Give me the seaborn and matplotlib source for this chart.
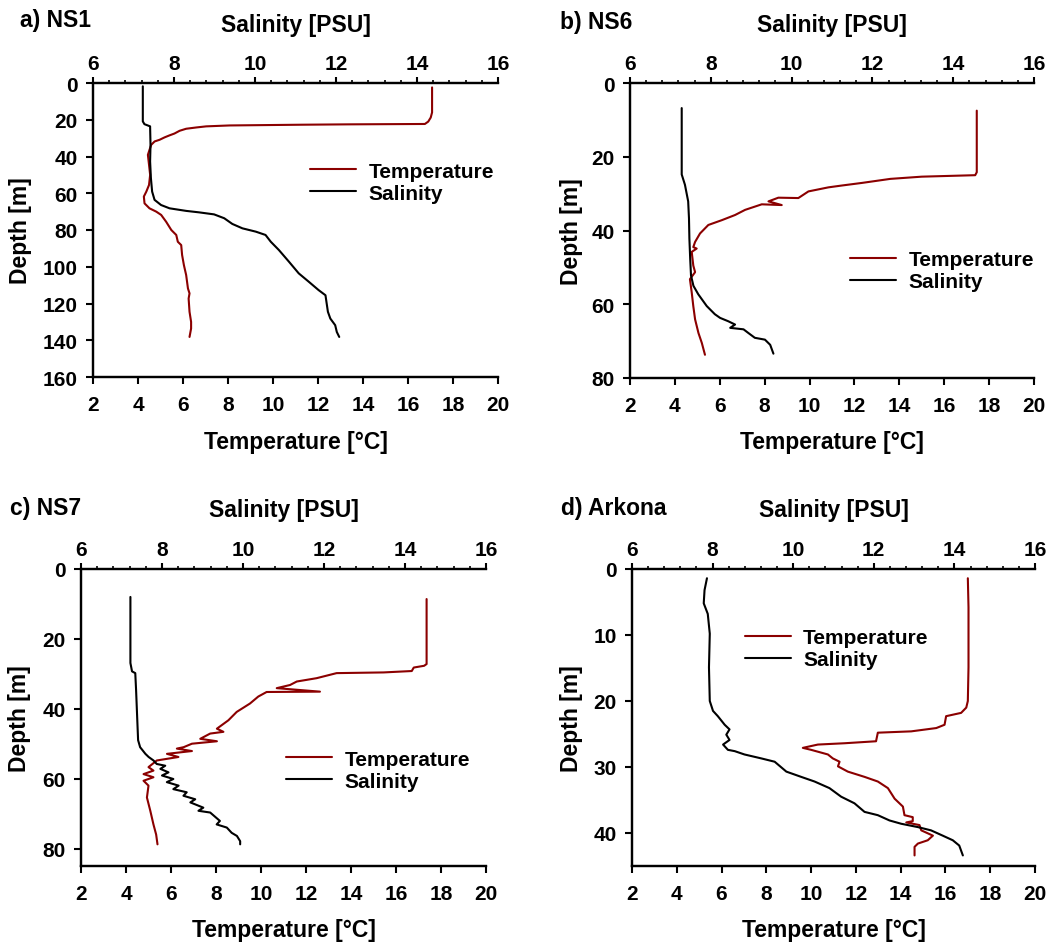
import matplotlib
matplotlib.use("Agg")
import matplotlib.pyplot as plt
from matplotlib.ticker import MultipleLocator
import seaborn as sns

# ---- CTD profiles -------------------------------------------------------
# NS1
ns1_temp_depth = [2.4, 16, 18.8, 21, 22.3, 22.5, 22.7, 23.1, 23.6, 24.2, 24.9, 26.0, 27.5, 28.5, 29.6,
                  30.9, 31.8, 33.6, 36.4, 39.1, 44.5, 50, 55.5, 59.1, 61.8, 65.5, 68.2, 70, 71.8, 75.5,
                  80, 82.7, 86.4, 88.2, 93.6, 99.1, 104.5, 111.8, 114.5, 117.3, 124.5, 130, 133.6, 138.2]
ns1_temp = [17.07, 17.07, 17.01, 16.9, 16.75, 13.4, 11.3, 8.07, 7.03, 6.59, 6.14, 5.85, 5.62, 5.40, 5.18,
            4.96, 4.74, 4.59, 4.51, 4.44, 4.49, 4.54, 4.49, 4.37, 4.26, 4.29, 4.51, 4.81, 5.03, 5.25,
            5.48, 5.70, 5.77, 5.92, 5.96, 6.04, 6.14, 6.22, 6.29, 6.25, 6.29, 6.36, 6.36, 6.29]
ns1_sal_depth = [1.8, 20.9, 22.4, 23.6, 33.6, 42.7, 51.8, 59.1, 63.6, 66.4, 68.2, 69.6, 70.4, 71.5, 73.6,
                 76.7, 79.1, 80.9, 82.7, 86.4, 90.9, 97.3, 103.6, 108.2, 112.7, 115.5, 124.5, 128.2,
                 131.8, 135.5, 138.2]
ns1_sal = [7.23, 7.23, 7.27, 7.41, 7.42, 7.41, 7.43, 7.46, 7.52, 7.68, 7.89, 8.30, 8.62, 8.99, 9.24,
           9.44, 9.69, 10.02, 10.26, 10.39, 10.59, 10.84, 11.08, 11.33, 11.57, 11.74, 11.80, 11.86,
           11.98, 12.02, 12.08]

# NS6
ns6_temp_depth = [7.5, 24.2, 25.0, 25.4, 26.0, 27.1, 27.8, 28.3, 29.4, 31.2, 31.1, 32.1, 33.1, 32.9, 34.4,
                  35.8, 37.2, 38.5, 40.8, 43.1, 44.5, 44.9, 45.8, 49.5, 51.3, 53.2, 56.8, 60.5, 64.1,
                  67.8, 70.5, 73.7]
ns6_temp = [17.45, 17.45, 17.38, 15.0, 13.6, 12.33, 11.44, 10.84, 9.95, 9.50, 8.61, 8.17, 8.76, 7.87, 7.13,
            6.68, 6.09, 5.49, 5.12, 4.90, 4.82, 4.97, 4.75, 4.82, 4.90, 4.67, 4.75, 4.82, 4.90,
            5.05, 5.20, 5.34]
ns6_sal_depth = [6.8, 24.8, 27.6, 32.1, 36.7, 42.2, 47.7, 52.2, 55.0, 57.3, 60.5, 62.7, 63.7, 64.6, 65.5,
                 66.4, 66.8, 67.8, 69.1, 69.6, 71.0, 73.4]
ns6_sal = [7.28, 7.28, 7.36, 7.44, 7.46, 7.47, 7.49, 7.51, 7.57, 7.69, 7.90, 8.10, 8.23, 8.43, 8.60,
           8.48, 8.81, 8.93, 9.09, 9.34, 9.47, 9.55]

# NS7
ns7_temp_depth = [8.6, 27.2, 27.7, 28.2, 29.2, 29.6, 29.8, 31.25, 32.2, 33.2, 34.1, 35.1, 35.2, 36.5, 38.5,
                  40.9, 43.3, 45.7, 46.6, 47.1, 48.6, 49.3, 50.0, 51.0, 51.4, 52.1, 52.9, 53.8, 54.8,
                  56.7, 57.7, 58.7, 59.6, 60.6, 62.0, 65.4, 69.2, 73.1, 76.0, 78.8]
ns7_temp = [17.36, 17.36, 17.25, 16.79, 16.7, 15.45, 13.36, 12.47, 11.59, 11.29, 10.70, 12.62, 10.25, 9.88,
            9.51, 8.92, 8.55, 8.04, 8.33, 7.74, 7.30, 8.04, 6.93, 6.56, 6.26, 6.93, 5.82, 6.33, 5.37,
            5.00, 5.22, 4.78, 5.22, 4.78, 5.00, 4.93, 5.08, 5.22, 5.34, 5.40]
ns7_sal_depth = [8.0, 26.9, 29.3, 29.8, 34.6, 40.4, 46.2, 49.0, 51.0, 52.9, 53.8, 54.8, 55.8, 56.3, 57.2,
                 58.2, 59.1, 60.1, 61.0, 62.0, 63.0, 63.9, 64.9, 65.9, 66.8, 68.3, 69.2, 69.7, 72.1,
                 73.1, 74.0, 75.5, 76.4, 77.9, 78.8]
ns7_sal = [7.22, 7.22, 7.26, 7.34, 7.36, 7.38, 7.40, 7.41, 7.46, 7.59, 7.67, 7.79, 7.87, 8.08, 7.96,
           8.16, 8.00, 8.28, 8.12, 8.41, 8.28, 8.61, 8.53, 8.82, 8.70, 9.02, 8.90, 9.19, 9.43,
           9.35, 9.60, 9.72, 9.85, 9.93, 9.93]

# Arkona
ark_temp_depth = [1.4, 5.8, 14.9, 20.0, 21.0, 21.8, 22.3, 23.6, 24.1, 24.6, 24.8, 26.1, 26.4, 26.6, 27.1,
                  27.4, 28.1, 28.7, 29.2, 29.9, 30.7, 31.5, 32.2, 33.2, 34.8, 36.0, 37.3, 37.6, 38.2,
                  38.4, 38.8, 39.6, 40.4, 41.1, 41.6, 42.1, 43.4]
ark_temp = [17.0, 17.03, 17.03, 17.0, 16.93, 16.7, 16.03, 15.96, 15.59, 14.47, 12.98, 12.9, 11.5, 10.3, 9.63,
            10.0, 10.75, 10.97, 11.27, 11.2, 11.64, 12.39, 12.98, 13.43, 13.73, 14.1, 14.17, 14.54, 14.54,
            14.25, 14.84, 14.92, 15.44, 15.21, 14.77, 14.62, 14.62]
ark_sal_depth = [1.4, 3.2, 5.2, 6.8, 9.8, 14.9, 20.0, 21.5, 22.3, 23.6, 24.3, 25.1, 25.9, 26.6, 27.4,
                 27.6, 28.1, 28.7, 29.2, 30.7, 31.5, 32.2, 33.2, 34.5, 35.5, 36.8, 37.3, 38.1, 38.6,
                 39.1, 39.6, 40.4, 41.1, 41.9, 43.4]
ark_sal = [7.86, 7.80, 7.78, 7.88, 7.93, 7.91, 7.93, 8.01, 8.13, 8.30, 8.42, 8.34, 8.42, 8.26, 8.38,
           8.55, 8.79, 9.21, 9.54, 9.83, 10.2, 10.53, 10.9, 11.19, 11.52, 11.77, 12.1, 12.39, 12.68,
           13.09, 13.42, 13.71, 13.96, 14.12, 14.21]

panel_titles = ["a) NS1", "b) NS6", "c) NS7", "d) Arkona"]
temp_ticks = [2, 4, 6, 8, 10, 12, 14, 16, 18, 20]
sal_ticks = [6, 8, 10, 12, 14, 16]
legend_labels = ["Temperature", "Salinity"]

# ---- styling ------------------------------------------------------------
sns.set_style("ticks")
plt.rcParams["font.family"] = ["Liberation Sans", "DejaVu Sans"]
plt.rcParams["font.weight"] = "bold"
for key in ("text.color", "axes.labelcolor", "xtick.color", "ytick.color", "axes.edgecolor"):
    plt.rcParams[key] = "black"

RED = "#8B0000"
BLACK = "#000000"
W, H = 1056, 945

fig = plt.figure(figsize=(W / 100, H / 100), dpi=100)


def frac_box(left, top, right, bottom):
    return [left / W, 1 - bottom / H, (right - left) / W, (bottom - top) / H]


panels = [
    dict(box=frac_box(93, 84, 498, 378), title_xy=(20, 21),
         temp=(ns1_temp, ns1_temp_depth), sal=(ns1_sal, ns1_sal_depth),
         ymax=160, ystep=20, leg=(0.536, 0.663), ylab_x=-0.180),
    dict(box=frac_box(630, 84, 1034, 379), title_xy=(560, 22),
         temp=(ns6_temp, ns6_temp_depth), sal=(ns6_sal, ns6_sal_depth),
         ymax=80, ystep=20, leg=(0.545, 0.364), ylab_x=-0.146),
    dict(box=frac_box(81, 570, 486, 867), title_xy=(10, 508),
         temp=(ns7_temp, ns7_temp_depth), sal=(ns7_sal, ns7_sal_depth),
         ymax=85, ystep=20, leg=(0.506, 0.323), ylab_x=-0.151),
    dict(box=frac_box(632, 570, 1035, 867), title_xy=(561, 508),
         temp=(ark_temp, ark_temp_depth), sal=(ark_sal, ark_sal_depth),
         ymax=45, ystep=10, leg=(0.280, 0.731), ylab_x=-0.151),
]

TICK_FS = 15
LABEL_FS = 16.5
LEG_FS = 15

for title, p in zip(panel_titles, panels):
    ax = fig.add_axes(p["box"])
    ax2 = ax.twiny()

    t, td = p["temp"]
    s, sd = p["sal"]
    sns.lineplot(x=t, y=td, ax=ax, color=RED, lw=1.5, sort=False,
                 estimator=None, legend=False)
    sns.lineplot(x=s, y=sd, ax=ax2, color=BLACK, lw=1.5, sort=False,
                 estimator=None, legend=False)

    ax.set_xlim(temp_ticks[0], temp_ticks[-1])
    ax.set_xticks(temp_ticks)
    ax2.set_xlim(sal_ticks[0], sal_ticks[-1])
    ax2.set_xticks(sal_ticks)
    ax2.xaxis.set_minor_locator(MultipleLocator(0.4))

    ax.set_ylim(p["ymax"], 0)
    ax.set_yticks(list(range(0, int(p["ymax"]) + 1, p["ystep"])))

    for a in (ax, ax2):
        for side, sp in a.spines.items():
            sp.set_linewidth(1.6)
            sp.set_color("black")
        a.spines["right"].set_visible(False)

    ax.tick_params(axis="x", which="both", top=False, bottom=True, direction="out",
                   length=5, width=1.5, pad=8, labelsize=TICK_FS, colors="black")
    ax.tick_params(axis="y", direction="out", length=5, width=1.5, pad=6,
                   labelsize=TICK_FS, right=False, colors="black")
    ax2.tick_params(axis="x", which="major", top=True, bottom=False, direction="out",
                    length=4, width=1.5, pad=3, labelsize=TICK_FS, colors="black")
    ax2.tick_params(axis="x", which="minor", top=True, bottom=False, direction="out",
                    length=2.5, width=1.2, colors="black")
    for lab in ax.get_xticklabels() + ax.get_yticklabels() + ax2.get_xticklabels():
        lab.set_fontweight("bold")

    h_ax = p["box"][3] * H
    ax.set_xlabel("Temperature [°C]", fontsize=LABEL_FS, fontweight="bold", va="center")
    ax.xaxis.set_label_coords(0.5, -64 / h_ax)
    ax2.set_xlabel("Salinity [PSU]", fontsize=LABEL_FS, fontweight="bold", va="center")
    ax2.xaxis.set_label_coords(0.5, 1 + 59 / h_ax)
    ax.set_ylabel("Depth [m]", fontsize=LABEL_FS, fontweight="bold", va="center")
    ax.yaxis.set_label_coords(p["ylab_x"], 0.5)

    tx, ty = p["title_xy"]
    fig.text(tx / W, 1 - ty / H, title, fontsize=LABEL_FS, fontweight="bold",
             ha="left", va="center")

    handles = [ax.get_lines()[0], ax2.get_lines()[0]]
    ax2.legend(handles=handles, labels=legend_labels, loc="center left",
               bbox_to_anchor=p["leg"], frameon=False, borderpad=0, borderaxespad=0,
               handlelength=2.2, handletextpad=0.6, labelspacing=0.15,
               prop={"size": LEG_FS, "weight": "bold"})

fig.savefig("out.png", dpi=100)
